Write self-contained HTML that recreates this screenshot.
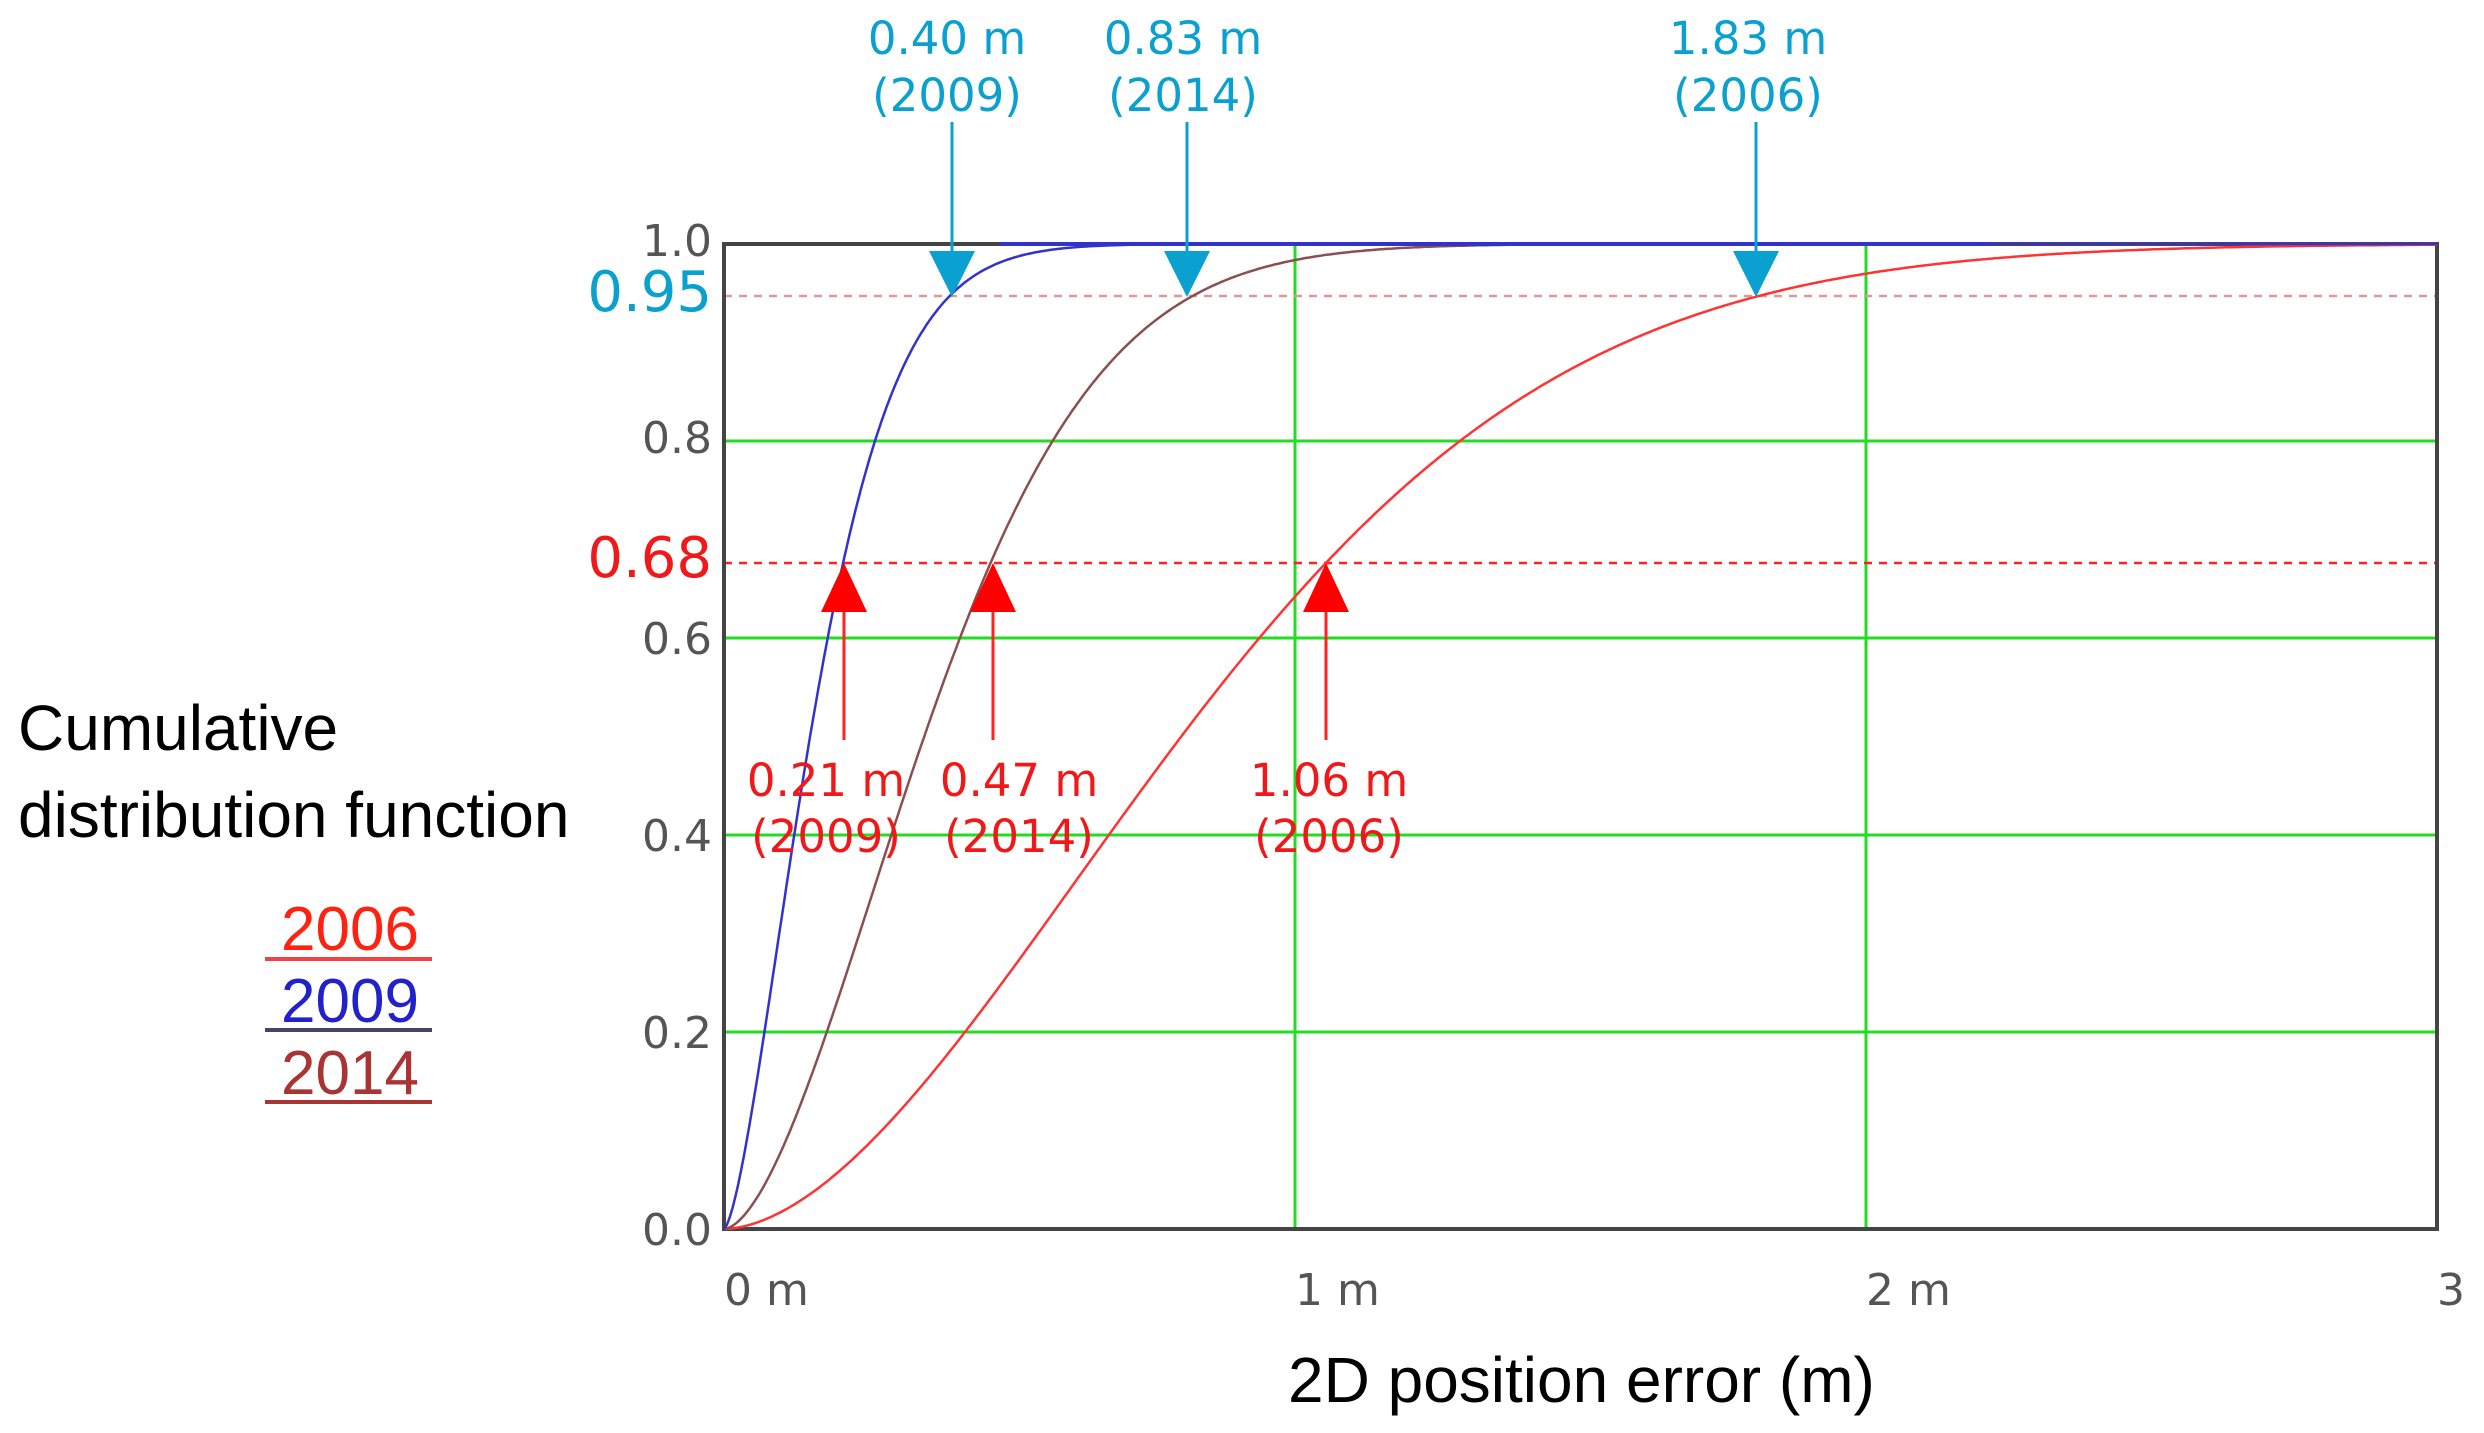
<!DOCTYPE html>
<html><head><meta charset="utf-8"><style>
html,body{margin:0;padding:0;background:#fff;}
svg{display:block;}
</style></head><body>
<svg id="s" width="2484" height="1433" viewBox="0 0 2484 1433" xmlns="http://www.w3.org/2000/svg" font-family="'DejaVu Sans','Liberation Sans',sans-serif">
<rect width="2484" height="1433" fill="#fff"/>
<g stroke="#22dd22" stroke-width="3">
<line x1="724" y1="1032" x2="2437" y2="1032"/>
<line x1="724" y1="835" x2="2437" y2="835"/>
<line x1="724" y1="638" x2="2437" y2="638"/>
<line x1="724" y1="441" x2="2437" y2="441"/>
<line x1="1295" y1="244" x2="1295" y2="1229"/>
<line x1="1866" y1="244" x2="1866" y2="1229"/>
</g>
<line x1="724" y1="296" x2="2437" y2="296" stroke="#d99" stroke-width="2.5" stroke-dasharray="8,7"/>
<line x1="724" y1="563" x2="2437" y2="563" stroke="#f22" stroke-width="2.5" stroke-dasharray="8,7"/>
<rect x="724" y="244" width="1713" height="985" fill="none" stroke="#444" stroke-width="4"/>
<g id="curves" fill="none" stroke-width="2.5"></g>
<g fill="#555" font-size="44" text-anchor="end">
<text x="712" y="256">1.0</text>
<text x="712" y="453">0.8</text>
<text x="712" y="654">0.6</text>
<text x="712" y="851">0.4</text>
<text x="712" y="1048">0.2</text>
<text x="712" y="1245">0.0</text>
</g>
<text x="712" y="311" fill="#0aa0d0" font-size="56" text-anchor="end">0.95</text>
<text x="712" y="577" fill="#f01818" font-size="56" text-anchor="end">0.68</text>
<g fill="#555" font-size="44">
<text x="724" y="1305">0 m</text>
<text x="1295" y="1305">1 m</text>
<text x="1866" y="1305">2 m</text>
<text x="2437" y="1305">3</text>
</g>
<text x="1288" y="1402" font-family="'Liberation Sans',sans-serif" font-size="64" fill="#000">2D position error (m)</text>
<text x="18" y="750" font-family="'Liberation Sans',sans-serif" font-size="64" fill="#000">Cumulative</text>
<text x="18" y="837" font-family="'Liberation Sans',sans-serif" font-size="64" fill="#000">distribution function</text>
<g font-family="'Liberation Sans',sans-serif" font-size="62" text-anchor="middle">
<text x="350" y="950" fill="#f21">2006</text>
<text x="350" y="1022" fill="#22c">2009</text>
<text x="350" y="1094" fill="#a33">2014</text>
</g>
<line x1="265" y1="959" x2="432" y2="959" stroke="#e44" stroke-width="4"/>
<line x1="265" y1="1030" x2="432" y2="1030" stroke="#446" stroke-width="4"/>
<line x1="265" y1="1102" x2="432" y2="1102" stroke="#a33" stroke-width="4"/>
<g fill="#0aa0d0" font-size="45" text-anchor="middle">
<text x="947" y="54">0.40 m</text><text x="947" y="111">(2009)</text>
<text x="1183" y="54">0.83 m</text><text x="1183" y="111">(2014)</text>
<text x="1748" y="54">1.83 m</text><text x="1748" y="111">(2006)</text>
</g>
<g stroke="#0aa0d0" stroke-width="3">
<line x1="952" y1="122" x2="952" y2="260"/>
<line x1="1187" y1="122" x2="1187" y2="260"/>
<line x1="1756" y1="122" x2="1756" y2="260"/>
</g>
<g fill="#0aa0d0">
<polygon points="929,251 975,251 952,297"/>
<polygon points="1164,251 1210,251 1187,297"/>
<polygon points="1733,251 1779,251 1756,297"/>
</g>
<g stroke="#f22" stroke-width="3">
<line x1="844" y1="600" x2="844" y2="740"/>
<line x1="993" y1="600" x2="993" y2="740"/>
<line x1="1326" y1="600" x2="1326" y2="740"/>
</g>
<g fill="#f00">
<polygon points="844,563 821,612 867,612"/>
<polygon points="993,563 970,612 1016,612"/>
<polygon points="1326,563 1303,612 1349,612"/>
</g>
<g fill="#f01818" font-size="45" text-anchor="middle">
<text x="826" y="796">0.21 m</text><text x="826" y="852">(2009)</text>
<text x="1019" y="796">0.47 m</text><text x="1019" y="852">(2014)</text>
<text x="1329" y="796">1.06 m</text><text x="1329" y="852">(2006)</text>
</g>
</svg>
<script>
(function(){
var g=document.getElementById('curves');
var defs=[[0.985,1.77,'#f33'],[0.435,1.70,'#8a5050'],[0.1925,1.50,'#33c']];
defs.forEach(function(d){
 var pts=[];
 for(var i=0;i<=600;i++){var x=i*3/600;var F=1-Math.exp(-Math.pow(x/d[0],d[1]));
  pts.push((724+x*571).toFixed(1)+','+(1229-F*985).toFixed(1));}
 var p=document.createElementNS('http://www.w3.org/2000/svg','polyline');
 p.setAttribute('points',pts.join(' '));p.setAttribute('stroke',d[2]);
 g.appendChild(p);
});
var l=document.createElementNS('http://www.w3.org/2000/svg','line');
l.setAttribute('x1',1000);l.setAttribute('y1',244);l.setAttribute('x2',1990);l.setAttribute('y2',244);
l.setAttribute('stroke','#33c');l.setAttribute('stroke-width',4);g.appendChild(l);
})();
</script>
</body></html>
